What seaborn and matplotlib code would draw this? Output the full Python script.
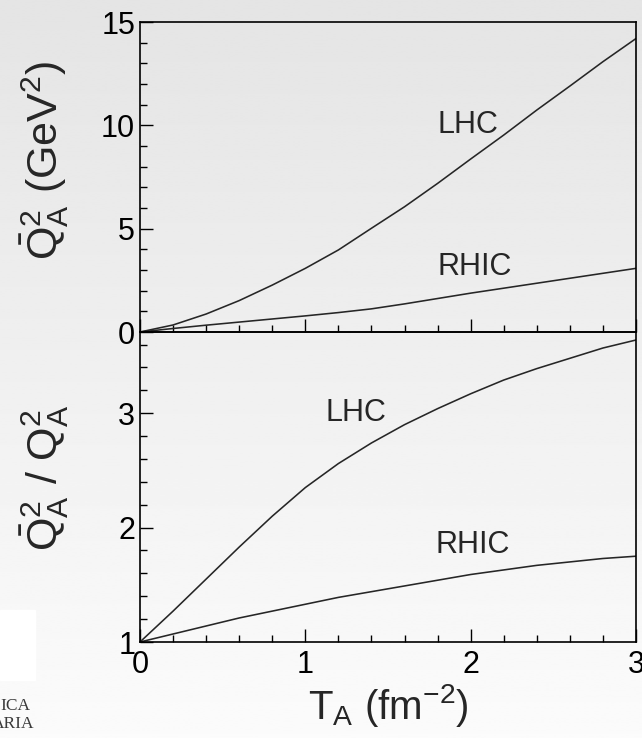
import numpy as np
import pandas as pd
import matplotlib
matplotlib.use("Agg")
import matplotlib.pyplot as plt
from matplotlib.ticker import MultipleLocator
import seaborn as sns

# Nuclear thickness T_A (fm^-2)
t_a = [0.0, 0.2, 0.4, 0.6, 0.8, 1.0, 1.2, 1.4, 1.6, 1.8, 2.0, 2.2, 2.4, 2.6, 2.8, 3.0]

# Mean saturation scale squared, GeV^2
qbar2_lhc = [0.0, 0.34, 0.87, 1.52, 2.27, 3.08, 3.97, 5.02, 6.06, 7.19, 8.37, 9.53, 10.74, 11.9, 13.08, 14.2]
qbar2_rhic = [0.0, 0.17, 0.33, 0.48, 0.63, 0.78, 0.94, 1.12, 1.36, 1.62, 1.88, 2.12, 2.36, 2.60, 2.84, 3.08]

# Ratio to the unaveraged scale
ratio_lhc = [1.0, 1.27, 1.55, 1.83, 2.10, 2.35, 2.56, 2.74, 2.90, 3.04, 3.17, 3.29, 3.39, 3.48, 3.57, 3.64]
ratio_rhic = [1.0, 1.07, 1.14, 1.21, 1.27, 1.33, 1.39, 1.44, 1.49, 1.54, 1.59, 1.63, 1.67, 1.70, 1.73, 1.75]

sns.set_theme(style="ticks")
plt.rcParams["font.family"] = ["Liberation Sans", "DejaVu Sans"]
plt.rcParams["mathtext.fontset"] = "custom"
plt.rcParams["mathtext.rm"] = "Liberation Sans"
plt.rcParams["mathtext.it"] = "Liberation Sans:italic"
plt.rcParams["mathtext.bf"] = "Liberation Sans:bold"

fig = plt.figure(figsize=(6.42, 7.38), dpi=100)

# soft vertical grey gradient behind everything
bg = fig.add_axes([0, 0, 1, 1], zorder=-10)
grad = np.linspace(0.985, 0.895, 256).reshape(-1, 1)
bg.imshow(grad, aspect="auto", cmap="gray", vmin=0, vmax=1, extent=[0, 1, 0, 1], origin="lower")
bg.set_axis_off()

# partial logo block at the lower left
bg.add_patch(plt.Rectangle((0, 0.0786), 0.0545, 0.095, color="white", transform=fig.transFigure, zorder=2))
fig.text(0.0, 0.043, "ICA", family="Liberation Serif", fontsize=12.5, color="#3a3a3a", va="center")
fig.text(-0.012, 0.019, "ARIA", family="Liberation Serif", fontsize=12.5, color="#3a3a3a", va="center")

left, width = 140 / 642, 496 / 642
h = 310 / 738
ax1 = fig.add_axes([left, 1 - 332 / 738, width, h])
ax2 = fig.add_axes([left, 1 - 642 / 738, width, h])

line_kw = dict(color="#262626", linewidth=1.15)
top = pd.DataFrame({"T": t_a, "LHC": qbar2_lhc, "RHIC": qbar2_rhic})
bot = pd.DataFrame({"T": t_a, "LHC": ratio_lhc, "RHIC": ratio_rhic})
for col in ["LHC", "RHIC"]:
    sns.lineplot(data=top, x="T", y=col, ax=ax1, **line_kw)
    sns.lineplot(data=bot, x="T", y=col, ax=ax2, **line_kw)

for ax in (ax1, ax2):
    ax.set_facecolor("none")
    ax.set_xlim(0, 3)
    ax.xaxis.set_major_locator(MultipleLocator(1))
    ax.xaxis.set_minor_locator(MultipleLocator(0.2))
    ax.tick_params(which="both", direction="in", top=False, right=False, width=1.0,
                   color="black", labelsize=22, labelcolor="black")
    ax.tick_params(which="major", length=9.5)
    ax.tick_params(which="minor", length=5)
    for s in ax.spines.values():
        s.set_linewidth(1.2)
        s.set_color("black")
    ax.set_xlabel("")
    ax.set_ylabel("")

ax1.set_ylim(0, 15)
ax1.yaxis.set_major_locator(MultipleLocator(5))
ax1.yaxis.set_minor_locator(MultipleLocator(1))
ax1.tick_params(axis="x", labelbottom=False)

ax2.set_ylim(1, 3.71)
ax2.yaxis.set_major_locator(MultipleLocator(1))
ax2.yaxis.set_minor_locator(MultipleLocator(0.2))
ax2.set_xticks([0, 1, 2, 3])
ax2.tick_params(axis="x", pad=6)

ax1.set_ylabel(r"$\bar{\mathrm{Q}}^2_{\mathrm{A}}$ (GeV$^2$)", fontsize=31)
ax2.set_ylabel(r"$\bar{\mathrm{Q}}^2_{\mathrm{A}}$ / Q$^2_{\mathrm{A}}$", fontsize=31)
ax1.yaxis.set_label_coords(-0.14, 0.555)
ax2.yaxis.set_label_coords(-0.14, 0.53)
ax2.set_xlabel(r"T$_{\mathrm{A}}$ (fm$^{-2}$)", fontsize=29, labelpad=1)

ax1.text(1.80, 10.0, "LHC", fontsize=22, va="center", ha="left")
ax1.text(1.80, 3.15, "RHIC", fontsize=22, va="center", ha="left")
ax2.text(1.12, 3.0, "LHC", fontsize=22, va="center", ha="left")
ax2.text(1.785, 1.85, "RHIC", fontsize=22, va="center", ha="left")

fig.savefig("out.png", dpi=100)
